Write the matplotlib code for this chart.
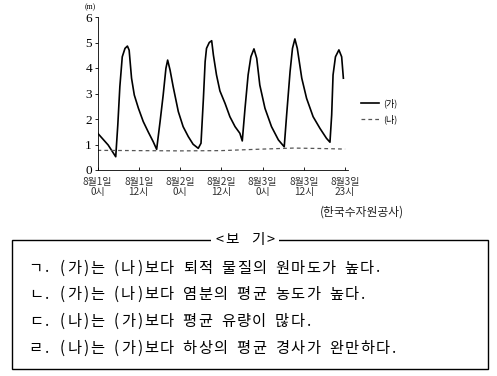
import numpy as np
import matplotlib
matplotlib.use("Agg")
import matplotlib.pyplot as plt
from matplotlib.patches import Rectangle

plt.rcParams['font.family'] = ['Noto Sans CJK KR', 'DejaVu Sans']

# (가) water level (m), hours from 8/1 0시
ga_hour = [0.0, 3.1, 5.3, 5.9, 6.5, 7.2, 8.0, 8.7, 9.2, 9.9, 10.7, 11.9, 13.3, 14.8, 16.2, 17.2,
           18.2, 19.1, 19.9, 20.4, 21.1, 22.0, 23.5, 24.9, 26.4, 27.8, 29.3, 30.1,
           30.8, 31.3, 31.7, 32.5, 33.2, 33.7, 34.6, 35.6, 37.1, 38.5, 40.0, 41.4, 42.1,
           42.9, 43.8, 44.6, 45.5, 46.3, 47.2, 48.7, 50.6, 52.6, 54.3,
           55.0, 56.0, 56.7, 57.4, 58.1, 59.4, 60.8, 62.7, 64.7, 66.6, 67.6,
           68.1, 68.5, 69.2, 70.2, 71.0, 71.5]
ga_level = [1.45, 0.98, 0.52, 1.76, 3.27, 4.44, 4.77, 4.86, 4.7, 3.6, 2.94, 2.42, 1.9, 1.48, 1.11, 0.81,
            1.9, 2.94, 3.99, 4.31, 3.92, 3.27, 2.29, 1.7, 1.31, 1.01, 0.85, 1.05,
            2.81, 4.25, 4.77, 5.0, 5.07, 4.51, 3.73, 3.1, 2.61, 2.09, 1.7, 1.44, 1.14,
            2.42, 3.73, 4.44, 4.75, 4.38, 3.33, 2.42, 1.7, 1.18, 0.91,
            2.16, 3.86, 4.77, 5.14, 4.77, 3.6, 2.81, 2.09, 1.63, 1.24, 1.09,
            2.16, 3.73, 4.44, 4.71, 4.44, 3.6]

# (나) water level (m)
na_hour = [0, 12, 24, 36, 48, 57, 66, 72]
na_level = [0.77, 0.76, 0.75, 0.76, 0.82, 0.86, 0.84, 0.82]

tick_pos = [0, 12, 24, 36, 48, 60, 72]
tick_labels = ['8월1일\n0시', '8월1일\n12시', '8월2일\n0시', '8월2일\n12시',
               '8월3일\n0시', '8월3일\n12시', '8월3일\n23시']

items = ['ㄱ. (가)는 (나)보다 퇴적 물질의 원마도가 높다.',
         'ㄴ. (가)는 (나)보다 염분의 평균 농도가 높다.',
         'ㄷ. (나)는 (가)보다 평균 유량이 많다.',
         'ㄹ. (나)는 (가)보다 하상의 평균 경사가 완만하다.']

W, H = 497, 376
fig = plt.figure(figsize=(W / 100, H / 100), dpi=100)
ax = fig.add_axes([97.5/W, 1-170/H, 250/W, 153/H])

ax.plot(ga_hour, ga_level, color='black', lw=1.2, label='(가)')
ax.plot(na_hour, na_level, color='#555555', lw=0.9, ls=(0, (3, 2.5)), label='(나)')

ax.set_xlim(0, 72.7)
ax.set_ylim(0, 6)
ax.spines['top'].set_visible(False)
ax.spines['right'].set_visible(False)
ax.spines['left'].set_linewidth(0.6)
ax.spines['bottom'].set_linewidth(0.6)
ax.set_xticks(tick_pos)
ax.set_xticklabels(tick_labels, fontsize=7.2, color='#333333', linespacing=1.05)
ax.set_yticks(range(7))
ax.set_yticklabels([str(i) for i in range(7)], family='Liberation Serif', fontsize=9.5)
ax.tick_params(axis='x', direction='in', length=2, width=0.6, pad=5)
ax.tick_params(axis='y', direction='out', length=2, width=0.6, pad=2)
ax.text(-0.03, 1.04, '(m)', transform=ax.transAxes, family='Liberation Serif',
        fontsize=5.5, ha='center', va='bottom')

fig.legend(loc='upper left', bbox_to_anchor=(353/W, 1-90/H), frameon=False,
           fontsize=6.5, handlelength=2.0, handletextpad=0.4, labelspacing=0.7)

fig.text(362/W, 1-212/H, '(한국수자원공사)', fontsize=8.5, ha='center', va='center',
         color='#222222')


# monospace-like layout: full-width cell for hangul, half cell for the rest
def grid_text(s, x0, y, em=15.4, size=11):
    x = x0
    for ch in s:
        w = em if ord(ch) >= 0x1100 else em / 2
        if ch != ' ':
            fig.text((x + w / 2) / W, 1 - y / H, ch, fontsize=size,
                     ha='center', va='center')
        x += w


def grid_width(s, em=15.4):
    return sum(em if ord(c) >= 0x1100 else em / 2 for c in s)


# <보 기> box
box = Rectangle((12/W, 1-369/H), 476/W, 129/H, transform=fig.transFigure,
                fill=False, lw=1.0, color='black')
fig.add_artist(box)
title = '<보 기>'
tw = grid_width(title, em=17)
fig.add_artist(Rectangle(((245 - tw / 2 - 4) / W, 1 - 248/H), (tw + 8) / W, 16/H,
                         transform=fig.transFigure, facecolor='white', edgecolor='none'))
grid_text(title, 245 - tw / 2, 240, em=17, size=10.5)
for i, s in enumerate(items):
    grid_text(s, 28, 268 + 26.7 * i)

fig.savefig('out.png', dpi=100)
